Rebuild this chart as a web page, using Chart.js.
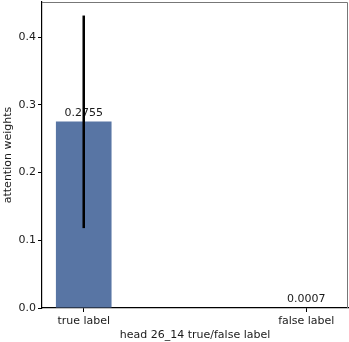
<!DOCTYPE html>
<html>
<head>
<meta charset="utf-8">
<script src="https://cdn.jsdelivr.net/npm/chart.js@4/dist/chart.umd.min.js"></script>
<style>
  html, body { margin: 0; padding: 0; background: #fff; }
  #wrap { width: 349px; height: 342px; }
</style>
</head>
<body>
<div id="wrap"><canvas id="barChart" width="349" height="342"></canvas></div>
<script>
const categories = ["true label", "false label"];
const meanValues = [0.2755, 0.0007];
const errLow = [0.118, 0.0007];
const errHigh = [0.432, 0.0007];
const valueLabels = ["0.2755", "0.0007"];
const yTicks = [0.0, 0.1, 0.2, 0.3, 0.4];

const FONT = "'DejaVu Sans', sans-serif";

// value labels above each bar, then the error bars on top
const annotate = {
  id: "annotate",
  afterDatasetsDraw(chart) {
    const { ctx, scales } = chart;
    const x = scales.x, y = scales.y;
    ctx.save();
    ctx.font = "11px " + FONT;
    ctx.fillStyle = "#1a1a1a";
    ctx.textAlign = "center";
    ctx.textBaseline = "bottom";
    meanValues.forEach((v, i) => {
      ctx.fillText(valueLabels[i], x.getPixelForValue(i), y.getPixelForValue(v) - 3);
    });
    ctx.strokeStyle = "#000";
    ctx.lineWidth = 2.5;
    meanValues.forEach((v, i) => {
      if (errHigh[i] - errLow[i] < 0.002) return;
      const px = x.getPixelForValue(i);
      ctx.beginPath();
      ctx.moveTo(px, y.getPixelForValue(errLow[i]));
      ctx.lineTo(px, y.getPixelForValue(errHigh[i]));
      ctx.stroke();
    });
    // top / right frame
    const a = chart.chartArea;
    ctx.lineWidth = 1;
    ctx.strokeStyle = "#777";
    ctx.beginPath();
    ctx.moveTo(a.left, a.top + 0.5);
    ctx.lineTo(a.right - 0.5, a.top + 0.5);
    ctx.lineTo(a.right - 0.5, a.bottom);
    ctx.stroke();
    ctx.restore();
  }
};

new Chart(document.getElementById("barChart"), {
  type: "bar",
  data: {
    datasets: [{
      data: meanValues.map((v, i) => ({ x: i, y: v })),
      backgroundColor: "#5875a4",
      borderWidth: 0,
      categoryPercentage: 1,
      barPercentage: 0.25
    }]
  },
  options: {
    responsive: false,
    animation: false,
    devicePixelRatio: 1,
    layout: { padding: { top: 2, right: 1, left: 0, bottom: 0 } },
    plugins: { legend: { display: false }, tooltip: { enabled: false } },
    scales: {
      x: {
        type: "linear",
        offset: false,
        min: -0.1875,
        max: 1.1875,
        afterBuildTicks: (s) => { s.ticks = categories.map((c, i) => ({ value: i })); },
        afterFit: (s) => { s.height = 34; s.paddingLeft = 0; s.paddingRight = 0; },
        ticks: {
          callback: (v) => categories[v],
          color: "#1a1a1a",
          font: { family: FONT, size: 11 },
          padding: 3,
          maxRotation: 0,
          autoSkip: false
        },
        grid: { offset: false, drawOnChartArea: false, tickLength: 4, tickColor: "#000", tickWidth: 1 },
        border: { color: "#000", width: 1.2 },
        title: {
          display: true,
          text: "head 26_14 true/false label",
          color: "#1a1a1a",
          font: { family: FONT, size: 11 },
          padding: { top: 0, bottom: 0 }
        }
      },
      y: {
        min: 0,
        max: 0.452,
        afterBuildTicks: (s) => { s.ticks = yTicks.map((v) => ({ value: v })); },
        afterFit: (s) => { s.width = 42; s.paddingTop = 0; s.paddingBottom = 0; },
        ticks: {
          callback: (v) => v.toFixed(1),
          color: "#1a1a1a",
          font: { family: FONT, size: 11 },
          padding: 2
        },
        grid: { drawOnChartArea: false, tickLength: 4, tickColor: "#000", tickWidth: 1 },
        border: { color: "#000", width: 1.2 },
        title: {
          display: true,
          text: "attention weights",
          color: "#1a1a1a",
          font: { family: FONT, size: 11 },
          padding: { top: 2, bottom: 0 }
        }
      }
    }
  },
  plugins: [annotate]
});
</script>
</body>
</html>
